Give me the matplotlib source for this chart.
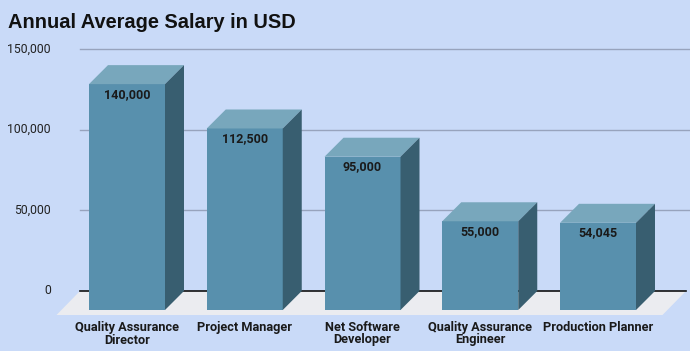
import matplotlib.pyplot as plt
from matplotlib.patches import Polygon

# data
jobs = ['Quality Assurance\nDirector', 'Project Manager', 'Net Software\nDeveloper',
        'Quality Assurance\nEngineer', 'Production Planner']
salaries = [140000, 112500, 95000, 55000, 54045]
value_labels = ['140,000', '112,500', '95,000', '55,000', '54,045']
yticks = [0, 50000, 100000, 150000]
ytick_labels = ['0', '50,000', '100,000', '150,000']

# pixel layout -> data units
W, H = 690, 351
px_cat = 117.75          # pixels per category
px_val = 80.67 / 50000   # pixels per salary unit
x0_px, y0_px = 127, 291  # first bar centre, zero line


def dx(px):
    return px / px_cat


def dy(px):
    return px / px_val


bg = '#c9daf8'
front_c = '#5890ad'
top_c = '#78a7bc'
side_c = '#385e70'

fig = plt.figure(figsize=(W / 100, H / 100), dpi=100, facecolor=bg)
ax = fig.add_axes([0, 0, 1, 1])
ax.set_facecolor(bg)
ax.set_xlim(dx(-x0_px), dx(W - x0_px))
ax.set_ylim(-dy(H - y0_px), dy(y0_px))
ax.axis('off')

grid_left = dx(80 - x0_px)
grid_right = dx(W - x0_px)
for t in yticks[1:]:
    ax.plot([grid_left, grid_right], [t, t], color='#97a3bd', lw=1, zorder=1)

# floor
fdx, fdy = dx(23.5), dy(24)
floor_right = dx(686 - x0_px)
ax.add_patch(Polygon([(grid_left, 0), (floor_right, 0), (floor_right - fdx, -fdy),
                      (grid_left - fdx, -fdy)], closed=True, facecolor='#ebecf0',
                     edgecolor='none', zorder=2))
ax.plot([grid_left, floor_right], [0, 0], color='#111111', lw=1.2, zorder=3)

# bars
hw = dx(38)
ddx, ddy = dx(19), dy(19)
for i, v in enumerate(salaries):
    l, r = i - hw, i + hw
    b, t = -ddy, v - ddy
    ax.add_patch(Polygon([(l, b), (r, b), (r, t), (l, t)], facecolor=front_c,
                         edgecolor='none', zorder=4))
    ax.add_patch(Polygon([(l, t), (r, t), (r + ddx, v), (l + ddx, v)], facecolor=top_c,
                         edgecolor='none', zorder=4))
    ax.add_patch(Polygon([(r, b), (r + ddx, 0), (r + ddx, v), (r, t)], facecolor=side_c,
                         edgecolor='none', zorder=4))
    ax.text(i, t - dy(10), value_labels[i], ha='center', va='center', fontsize=9,
            family='Roboto', weight='bold', color='#1a1a1a', zorder=5)
    ax.text(i, -dy(30), jobs[i], ha='center', va='top', fontsize=9.2,
            family='Roboto', weight='bold', color='#1a1a1a', linespacing=0.95, zorder=5)

for t, lab in zip(yticks, ytick_labels):
    ax.text(dx(51 - x0_px), t, lab, ha='right', va='center', fontsize=8.8,
            family='Roboto', color='#222222')

fig.text(8 / W, 1 - 27.5 / H, 'Annual Average Salary in USD', ha='left', va='baseline',
         fontsize=14.4, family='Liberation Sans', weight='bold', color='#111111')

fig.savefig('out.png', dpi=100, facecolor=bg)
